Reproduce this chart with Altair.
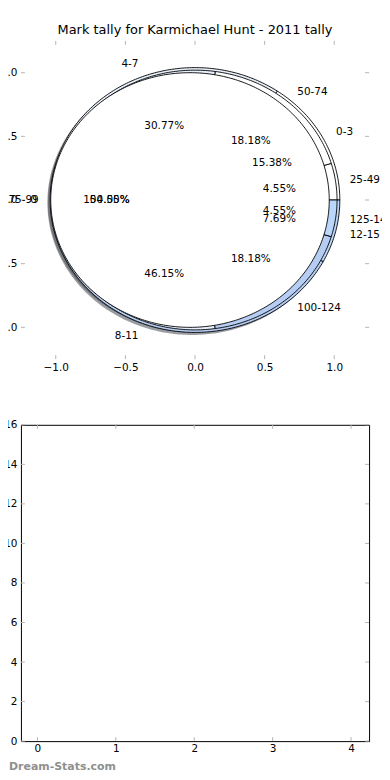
import math
import altair as alt
import pandas as pd

TITLE = "Mark tally for Karmichael Hunt - 2011 tally"
WATERMARK = "Dream-Stats.com"

# pie 1 (mark ranges)
marks_labels = ["0-3", "4-7", "8-11", "12-15"]
marks_counts = [2, 4, 6, 1]
marks_colors = ["#ffffff", "#e8f0fc", "#b6cdf3", "#bad6fb"]

# pie 2 (disposal ranges)
disposal_labels = ["25-49", "50-74", "75-99", "100-124", "125-149"]
disposal_counts = [1, 4, 12, 4, 1]
disposal_colors = ["#ffffff", "#ffffff", "#e8f0fc", "#b6cdf3", "#bad6fb"]

# pie 3 (goals)
goal_labels = ["0"]
goal_counts = [1]
goal_colors = ["#ffffff"]

pie_radius = [1.04, 1.02, 1.0]
pie_explode = [0.0, 0.0, 0.036]

pie_ticks = [-1.0, -0.5, 0.0, 0.5, 1.0]
bar_x_ticks = [0, 1, 2, 3, 4]
bar_y_ticks = [0, 2, 4, 6, 8, 10, 12, 14, 16]

FONT = "DejaVu Sans"
FS = 10.5
W1, H1 = 350, 320
W2, H2 = 350, 318
TICK = "#b4b4b4"
TL = 4


def darken(c):
    r, g, b = int(c[1:3], 16), int(c[3:5], 16), int(c[5:7], 16)
    return "#%02x%02x%02x" % (int(r * 0.3), int(g * 0.3), int(b * 0.3))


pies = [
    (marks_labels, marks_counts, marks_colors),
    (disposal_labels, disposal_counts, disposal_colors),
    (goal_labels, goal_counts, goal_colors),
]

wedge_rows, shadow_rows, label_rows, pct_rows = [], [], [], []
for p, (labels, counts, colors) in enumerate(pies):
    r = pie_radius[p]
    ex = pie_explode[p]
    total = float(sum(counts))
    t1 = 0.0
    for i, (lab, c, col) in enumerate(zip(labels, counts, colors)):
        frac = c / total
        t2 = t1 + frac
        thm = math.pi * (t1 + t2)
        cx, cy = ex * math.cos(thm), ex * math.sin(thm)
        a1, a2 = 360.0 * t1, 360.0 * t2
        full = abs((a2 - a1) - 360.0) < 1e-9
        n = max(2, int(math.ceil(a2 - a1)) + 1)
        angs = [a1 + (a2 - a1) * k / (n - 1) for k in range(n)]
        pts = [(cx + r * math.cos(math.radians(a)), cy + r * math.sin(math.radians(a))) for a in angs]
        if not full:
            pts = [(cx, cy)] + pts + [(cx, cy)]
        key = "p%dw%d" % (p, i)
        for k, (x, y) in enumerate(pts):
            wedge_rows.append(dict(pie=p, key=key, k=k, x=x, y=y, fill=col))
            shadow_rows.append(dict(pie=p, key=key, k=k, x=x - 0.02, y=y - 0.02, fill=darken(col)))
        xt = cx + 1.1 * r * math.cos(thm)
        yt = cy + 1.1 * r * math.sin(thm)
        side = "left" if xt > 0 else "right"
        if xt > 1.05:
            side = "edge"
        label_rows.append(dict(text=lab, x=xt, y=yt, side=side))
        xp = cx + 0.6 * r * math.cos(thm)
        yp = cy + 0.6 * r * math.sin(thm)
        pct_rows.append(dict(text="%.2f%%" % (100 * frac), x=xp, y=yp))
        t1 = t2

wedges = pd.DataFrame(wedge_rows)
shadows = pd.DataFrame(shadow_rows)
labels_df = pd.DataFrame(label_rows)
pct_df = pd.DataFrame(pct_rows)

axis_kw = dict(ticks=False, domain=False, grid=False, labelFlush=False, labelOverlap=False,
               labelFont=FONT, labelFontSize=FS, labelColor="black")

xs1 = alt.Scale(domain=[-1.25, 1.25], nice=False, zero=False)
ys1 = alt.Scale(domain=[-1.25, 1.25], nice=False, zero=False)
xax1 = alt.Axis(values=pie_ticks, format=".1f", labelPadding=3, **axis_kw)
yax1 = alt.Axis(values=pie_ticks, format=".1f", labelPadding=4, **axis_kw)


def X1(f="x"):
    return alt.X(f + ":Q", scale=xs1, axis=xax1, title=None)


def Y1(f="y"):
    return alt.Y(f + ":Q", scale=ys1, axis=yax1, title=None)


shadow_layer = alt.Chart(shadows).mark_line(strokeWidth=0, strokeOpacity=0, opacity=0.5).encode(
    x=X1(), y=Y1(), order=alt.Order("k:Q"), detail="key:N",
    fill=alt.Fill("fill:N", scale=None),
)

wedge_layers = []
for p in range(3):
    wedge_layers.append(
        alt.Chart(wedges[wedges["pie"] == p]).mark_line(stroke="black", strokeWidth=0.9).encode(
            x=X1(), y=Y1(), order=alt.Order("k:Q"), detail="key:N",
            fill=alt.Fill("fill:N", scale=None),
        )
    )

text_kw = dict(font=FONT, fontSize=FS, color="black", baseline="middle")
lab_left = alt.Chart(labels_df[labels_df["side"] == "left"]).mark_text(align="left", **text_kw).encode(
    x=X1(), y=Y1(), text="text:N")
lab_edge = alt.Chart(labels_df[labels_df["side"] == "edge"]).mark_text(
    align="left", limit=39.5, ellipsis="\u200b", **text_kw).encode(
    x=X1(), y=Y1(), text="text:N")
lab_right = alt.Chart(labels_df[labels_df["side"] == "right"]).mark_text(align="right", **text_kw).encode(
    x=X1(), y=Y1(), text="text:N")
pct_layer = alt.Chart(pct_df).mark_text(align="center", **text_kw).encode(
    x=X1(), y=Y1(), text="text:N")

title_layer = alt.Chart(pd.DataFrame({"t": [TITLE]})).mark_text(
    font=FONT, fontSize=13, color="black", align="center", baseline="middle").encode(
    text="t:N", x=alt.value(W1 / 2), y=alt.value(-11.4))

tdf1 = pd.DataFrame({"v": pie_ticks})
ticks1 = [
    alt.Chart(tdf1).mark_rule(color=TICK, strokeWidth=1).encode(x=X1("v"), y=alt.value(0), y2=alt.value(TL)),
    alt.Chart(tdf1).mark_rule(color=TICK, strokeWidth=1).encode(x=X1("v"), y=alt.value(H1 - TL), y2=alt.value(H1)),
    alt.Chart(tdf1).mark_rule(color=TICK, strokeWidth=1).encode(y=Y1("v"), x=alt.value(0), x2=alt.value(TL)),
    alt.Chart(tdf1).mark_rule(color=TICK, strokeWidth=1).encode(y=Y1("v"), x=alt.value(W1 - TL), x2=alt.value(W1)),
]

bdf = pd.DataFrame({"a": [0]})
bound_top = alt.Chart(bdf).mark_rule(opacity=0, strokeWidth=0).encode(
    x=alt.value(-40), x2=alt.value(0), y=alt.value(-30.4), y2=alt.value(-30.4))

top = alt.layer(shadow_layer, *wedge_layers, *ticks1, lab_left, lab_edge, lab_right, pct_layer,
                title_layer, bound_top).properties(
    width=W1, height=H1, view=alt.ViewBackground(stroke="transparent"))

# bottom (empty) chart
xs2 = alt.Scale(domain=[-0.21, 4.23], nice=False, zero=False)
ys2 = alt.Scale(domain=[0, 16], nice=False, zero=False)
xax2 = alt.Axis(values=bar_x_ticks, format="d", labelPadding=2, **axis_kw)
yax2 = alt.Axis(values=bar_y_ticks, format="d", labelPadding=4, **axis_kw)

xdf2 = pd.DataFrame({"v": bar_x_ticks})
ydf2 = pd.DataFrame({"v": bar_y_ticks})
X2 = alt.X("v:Q", scale=xs2, axis=xax2, title=None)
Y2 = alt.Y("v:Q", scale=ys2, axis=yax2, title=None)
ticks2 = [
    alt.Chart(xdf2).mark_rule(color=TICK, strokeWidth=1).encode(x=X2, y=alt.value(0), y2=alt.value(TL)),
    alt.Chart(xdf2).mark_rule(color=TICK, strokeWidth=1).encode(x=X2, y=alt.value(H2 - TL), y2=alt.value(H2)),
    alt.Chart(ydf2).mark_rule(color=TICK, strokeWidth=1).encode(y=Y2, x=alt.value(0), x2=alt.value(TL)),
    alt.Chart(ydf2).mark_rule(color=TICK, strokeWidth=1).encode(y=Y2, x=alt.value(W2 - TL), x2=alt.value(W2)),
]

wm = alt.Chart(pd.DataFrame({"t": [WATERMARK]})).mark_text(
    font=FONT, fontSize=11, fontWeight="bold", color="#8f8f8f", align="left", baseline="alphabetic").encode(
    text="t:N", x=alt.value(-12), y=alt.value(347))

bottom = alt.layer(*ticks2, wm).properties(
    width=W2, height=H2, view=alt.ViewBackground(stroke="black", strokeWidth=1))

chart = alt.vconcat(top, bottom, spacing=66, bounds="flush").properties(
    padding={"left": -28, "top": 0, "right": -6, "bottom": -4}
).configure(background="white")

chart.save("out.html", embed_options={"renderer": "svg", "actions": False})
